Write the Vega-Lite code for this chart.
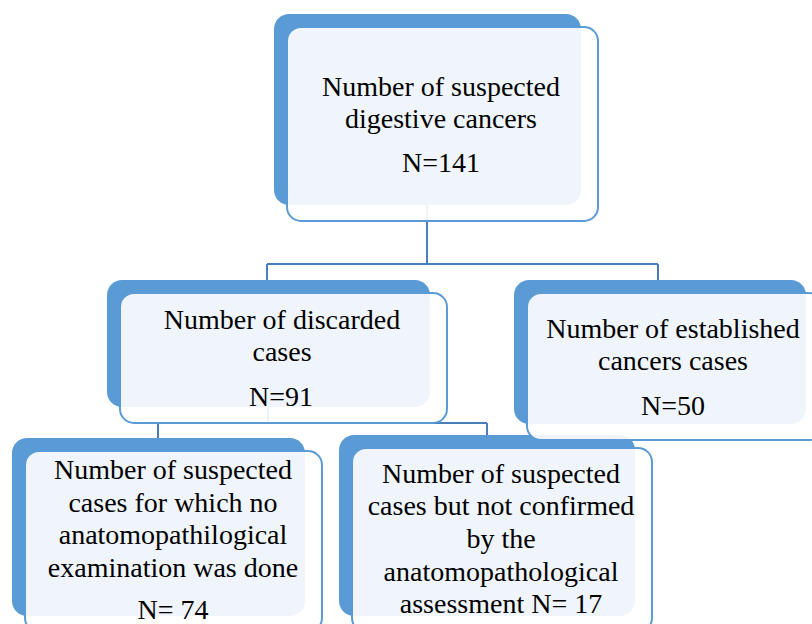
{
  "$schema": "https://vega.github.io/schema/vega-lite/v6.json",
  "width": 812,
  "height": 624,
  "autosize": {"type": "none"},
  "padding": 0,
  "background": "white",
  "config": {"view": {"stroke": null}},
  "datasets": {
    "nodes": [
      {"node": "suspected", "x0": 287, "x1": 598, "y0": 27, "y1": 221},
      {"node": "discarded", "x0": 120, "x1": 447, "y0": 293, "y1": 423},
      {"node": "established", "x0": 527, "x1": 823, "y0": 293, "y1": 440},
      {"node": "no exam", "x0": 25, "x1": 322, "y0": 451, "y1": 632},
      {"node": "not confirmed", "x0": 352, "x1": 652, "y0": 448, "y1": 632}
    ],
    "links": [
      {"x0": 427, "x1": 427, "y0": 205, "y1": 264},
      {"x0": 267, "x1": 658, "y0": 264, "y1": 264},
      {"x0": 267, "x1": 267, "y0": 264, "y1": 280},
      {"x0": 658, "x1": 658, "y0": 264, "y1": 280},
      {"x0": 268, "x1": 268, "y0": 407, "y1": 423},
      {"x0": 158, "x1": 487, "y0": 423, "y1": 423},
      {"x0": 158, "x1": 158, "y0": 423, "y1": 438},
      {"x0": 487, "x1": 487, "y0": 423, "y1": 435}
    ],
    "labels": [
      {"node": "suspected", "x": 441, "y": 96, "text": "Number of suspected"},
      {"node": "suspected", "x": 441, "y": 128, "text": "digestive cancers"},
      {"node": "suspected", "x": 441, "y": 172, "text": "N=141"},
      {"node": "discarded", "x": 282, "y": 329, "text": "Number of discarded"},
      {"node": "discarded", "x": 282, "y": 361, "text": "cases"},
      {"node": "discarded", "x": 281, "y": 406, "text": "N=91"},
      {"node": "established", "x": 673, "y": 338, "text": "Number of established"},
      {"node": "established", "x": 673, "y": 370, "text": "cancers cases"},
      {"node": "established", "x": 673, "y": 415, "text": "N=50"},
      {"node": "no exam", "x": 173, "y": 479, "text": "Number of suspected"},
      {"node": "no exam", "x": 173, "y": 512, "text": "cases for which no"},
      {"node": "no exam", "x": 173, "y": 544, "text": "anatomopathilogical"},
      {"node": "no exam", "x": 173, "y": 577, "text": "examination was done"},
      {"node": "no exam", "x": 173, "y": 619, "text": "N= 74"},
      {"node": "not confirmed", "x": 501, "y": 483, "text": "Number of suspected"},
      {"node": "not confirmed", "x": 501, "y": 515, "text": "cases but not confirmed"},
      {"node": "not confirmed", "x": 501, "y": 548, "text": "by the"},
      {"node": "not confirmed", "x": 501, "y": 581, "text": "anatomopathological"},
      {"node": "not confirmed", "x": 501, "y": 613, "text": "assessment N= 17"}
    ]
  },
  "layer": [
    {
      "data": {"name": "links"},
      "mark": {"type": "rule", "color": "#4A7EBB", "strokeWidth": 2},
      "encoding": {
        "x": {"field": "x0", "type": "quantitative", "scale": {"domain": [0, 812], "nice": false, "zero": false}, "axis": null},
        "x2": {"field": "x1"},
        "y": {"field": "y0", "type": "quantitative", "scale": {"domain": [0, 624], "nice": false, "zero": false, "reverse": true}, "axis": null},
        "y2": {"field": "y1"}
      }
    },
    {
      "data": {"name": "nodes"},
      "mark": {"type": "rect", "fill": "#5B9BD5", "cornerRadius": 15, "xOffset": -13, "x2Offset": -17, "yOffset": -13, "y2Offset": -16},
      "encoding": {
        "x": {"field": "x0", "type": "quantitative"},
        "x2": {"field": "x1"},
        "y": {"field": "y0", "type": "quantitative"},
        "y2": {"field": "y1"}
      }
    },
    {
      "data": {"name": "nodes"},
      "mark": {"type": "rect", "fill": "white", "fillOpacity": 0.9, "stroke": "#5B9BD5", "strokeWidth": 2, "cornerRadius": 14},
      "encoding": {
        "x": {"field": "x0", "type": "quantitative"},
        "x2": {"field": "x1"},
        "y": {"field": "y0", "type": "quantitative"},
        "y2": {"field": "y1"}
      }
    },
    {
      "data": {"name": "labels"},
      "mark": {"type": "text", "font": "Liberation Serif", "fontSize": 28, "color": "black", "align": "center", "baseline": "alphabetic"},
      "encoding": {
        "x": {"field": "x", "type": "quantitative"},
        "y": {"field": "y", "type": "quantitative"},
        "text": {"field": "text"}
      }
    }
  ]
}
